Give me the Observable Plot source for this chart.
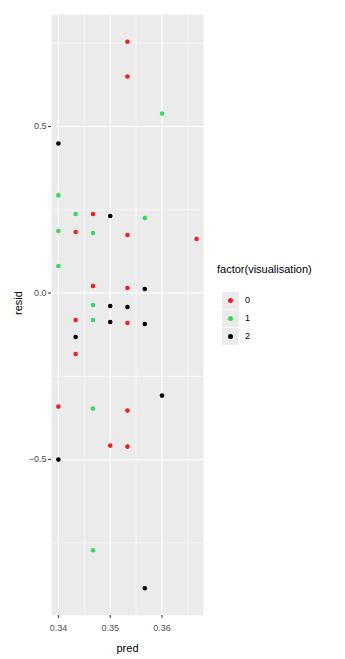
<!DOCTYPE html>
<html>
<head>
<meta charset="utf-8">
<script src="https://cdn.jsdelivr.net/npm/d3@7"></script>
<script src="https://cdn.jsdelivr.net/npm/@observablehq/plot@0.6"></script>
<style>
  body { margin: 0; background: #fff; font-family: "Liberation Sans", Arial, sans-serif; }
  #wrap { position: relative; width: 345px; height: 659px; }
  #legend { position: absolute; left: 0; top: 0; width: 345px; height: 659px; pointer-events: none; }
  .lt { position: absolute; font-size: 11px; color: #000; white-space: nowrap; }
  .key { position: absolute; width: 17px; height: 17px; background: #EBEBEB; }
  .kd { position: absolute; left: 6px; top: 6px; width: 5px; height: 5px; border-radius: 50%; }
  .kl { position: absolute; font-size: 9px; color: #000; }
</style>
</head>
<body>
<div id="wrap"><div id="chart"></div><div id="legend"></div></div>
<script>
const pred = [0.35333, 0.35333, 0.36, 0.34, 0.34,
  0.34333, 0.34667, 0.35, 0.35667, 0.34, 0.34333, 0.34667, 0.35333, 0.36667,
  0.34, 0.34667, 0.35333, 0.35667, 0.34667, 0.35, 0.35333,
  0.34333, 0.34667, 0.35, 0.35333, 0.35667, 0.34333, 0.34333,
  0.36, 0.34, 0.34667, 0.35333, 0.35, 0.35333, 0.34, 0.34667, 0.35667];
const resid = [0.754, 0.650, 0.539, 0.449, 0.293,
  0.237, 0.237, 0.231, 0.225, 0.186, 0.183, 0.180, 0.174, 0.162,
  0.081, 0.021, 0.015, 0.012, -0.036, -0.039, -0.042,
  -0.081, -0.081, -0.087, -0.090, -0.093, -0.132, -0.183,
  -0.308, -0.341, -0.347, -0.353, -0.458, -0.461, -0.500, -0.772, -0.886];
const visualisation = ["0","0","1","2","1",
  "1","0","2","1","1","0","1","0","0",
  "1","0","0","2","1","2","2",
  "0","1","2","0","2","2","0",
  "2","0","1","0","0","0","2","1","2"];
const levels = ["0","1","2"];
const colors = ["#f0201f", "#35dc55", "#000000"];
const xTicks = [0.34, 0.35, 0.36];
const xMinor = [0.345, 0.355, 0.365];
const yTicks = [-0.5, 0, 0.5];
const yMinor = [-0.75, -0.25, 0.25, 0.75];

const data = pred.map((p, i) => ({pred: p, resid: resid[i], vis: visualisation[i]}));

const chart = Plot.plot({
  width: 345, height: 659,
  marginTop: 14, marginRight: 142, marginBottom: 44, marginLeft: 51,
  style: {fontFamily: "Liberation Sans, Arial, sans-serif", background: "#fff"},
  x: {domain: [0.33867, 0.368]},
  y: {domain: [-0.968, 0.836]},
  color: {domain: levels, range: colors},
  marks: [
    Plot.frame({fill: "#EBEBEB", stroke: null}),
    Plot.ruleX(xMinor, {stroke: "#fff", strokeWidth: 0.55}),
    Plot.ruleY(yMinor, {stroke: "#fff", strokeWidth: 0.55}),
    Plot.ruleX(xTicks, {stroke: "#fff", strokeWidth: 1.1}),
    Plot.ruleY(yTicks, {stroke: "#fff", strokeWidth: 1.1}),
    Plot.axisX({ticks: xTicks, tickFormat: d3.format(".2f"), tickSize: 3, tickPadding: 6, color: "#4D4D4D", fontSize: 9, label: null, stroke: "#333"}),
    Plot.axisY({ticks: yTicks, tickFormat: d3.format(".1f"), tickSize: 3, tickPadding: 2, color: "#4D4D4D", fontSize: 9, label: null, stroke: "#333"}),
    Plot.text(["pred"], {frameAnchor: "bottom", dy: 36, fontSize: 11, fill: "#000"}),
    Plot.text(["resid"], {frameAnchor: "left", dx: -33, rotate: -90, fontSize: 11, fill: "#000"}),
    Plot.dot(data, {x: "pred", y: "resid", fill: "vis", r: 2.3, stroke: null})
  ]
});
document.getElementById("chart").appendChild(chart);

const leg = document.getElementById("legend");
const title = document.createElement("div");
title.className = "lt";
title.style.left = "217px"; title.style.top = "263px";
title.textContent = "factor(visualisation)";
leg.appendChild(title);
levels.forEach((lv, i) => {
  const k = document.createElement("div");
  k.className = "key";
  k.style.left = "222px"; k.style.top = (292 + i * 18) + "px";
  const d = document.createElement("div");
  d.className = "kd"; d.style.background = colors[i];
  k.appendChild(d);
  leg.appendChild(k);
  const l = document.createElement("div");
  l.className = "kl";
  l.style.left = "245px"; l.style.top = (295 + i * 18) + "px";
  l.textContent = lv;
  leg.appendChild(l);
});
</script>
</body>
</html>
